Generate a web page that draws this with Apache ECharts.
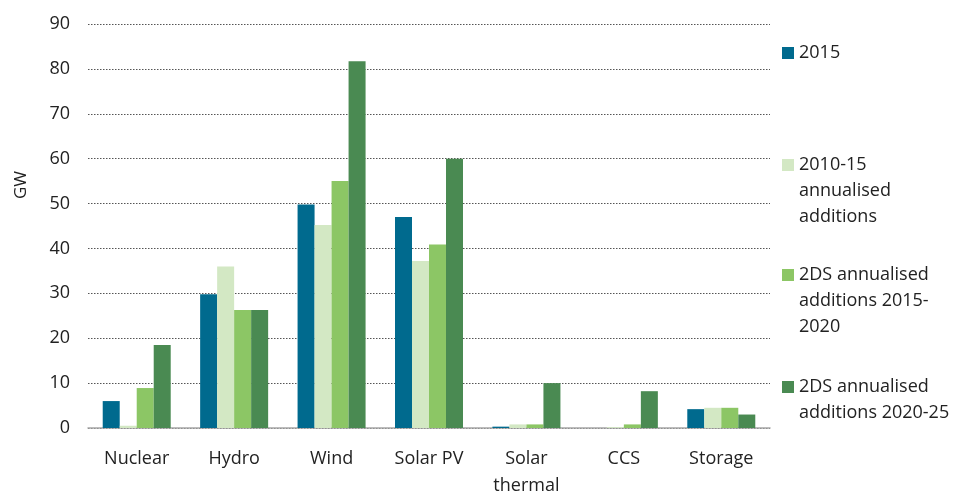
<!DOCTYPE html>
<html><head><meta charset="utf-8">
<script src="https://cdn.jsdelivr.net/npm/echarts@6/dist/echarts.min.js"></script>
<style>html,body{margin:0;padding:0;background:#fff}#c{width:962px;height:491px}</style>
</head><body><div id="c"></div>
<script>
const categories = ['Nuclear','Hydro','Wind','Solar PV','Solar\nthermal','CCS','Storage'];
const seriesNames = ['2015','2010-15\nannualised\nadditions','2DS annualised\nadditions 2015-\n2020','2DS annualised\nadditions 2020-25'];
const s2015 = [6.0, 29.8, 49.8, 47.0, 0.3, 0.0, 4.2];
const s2010_15 = [0.5, 36.0, 45.2, 37.2, 0.8, 0.2, 4.5];
const s2DS_15_20 = [8.9, 26.3, 55.0, 40.9, 0.8, 0.8, 4.5];
const s2DS_20_25 = [18.5, 26.3, 81.7, 60.0, 10.0, 8.2, 3.0];
const yTicks = [0, 10, 20, 30, 40, 50, 60, 70, 80, 90];
const colors = ['#006a8e','#d3e8c4','#8cc665','#4a8a52'];
const values = [s2015, s2010_15, s2DS_15_20, s2DS_20_25];
const firstLineCenters = [53, 165, 275, 387];
const LH = 26;
const FS = 18;
const font = 'Open Sans';
const legendLeft = 782;
const graphics = [];
seriesNames.forEach((n, i) => {
  n.split('\n').slice(1).forEach((line, k) => {
    graphics.push({
      type: 'text', left: legendLeft + 17, top: firstLineCenters[i] + (k + 1) * LH - LH / 2,
      style: {text: line, font: FS + 'px "' + font + '"', fill: '#222', lineHeight: LH, verticalAlign: 'top'}
    });
  });
});
const chart = echarts.init(document.getElementById('c'));
chart.setOption({
  animation: false,
  textStyle: {fontFamily: font},
  grid: {left: 88, right: 192, top: 24, bottom: 63, outerBoundsMode: 'none', containLabel: false},
  legend: seriesNames.map((n, i) => ({
    data: [n], orient: 'vertical', left: legendLeft, top: firstLineCenters[i] - LH / 2,
    padding: 0, itemWidth: 12, itemHeight: 12, icon: 'rect', itemGap: 0,
    formatter: name => name.split('\n')[0],
    textStyle: {fontSize: FS, color: '#222', lineHeight: LH, fontFamily: font}
  })),
  graphic: graphics,
  xAxis: {
    type: 'category', data: categories,
    axisLine: {lineStyle: {color: '#a6a6a6', width: 1.5}},
    axisTick: {show: false},
    axisLabel: {fontSize: 18, color: '#222', margin: 17, lineHeight: 27, fontFamily: font}
  },
  yAxis: {
    type: 'value', min: 0, max: 90, interval: 10,
    name: 'GW', nameLocation: 'middle', nameGap: 58, nameRotate: 90,
    nameTextStyle: {fontSize: 17, color: '#222', fontFamily: font, padding: [0, 0, 0, 82]},
    axisLine: {show: false}, axisTick: {show: false},
    axisLabel: {fontSize: 18, color: '#222', margin: 18, fontFamily: font,
      formatter: v => yTicks.includes(v) ? String(v) : ''},
    splitLine: {lineStyle: {color: '#555', type: [1.5, 1.5], width: 1}}
  },
  series: seriesNames.map((n, i) => ({
    name: n, type: 'bar', data: values[i], barWidth: 17, barGap: '0%',
    itemStyle: {color: colors[i]}
  }))
});
</script></body></html>
